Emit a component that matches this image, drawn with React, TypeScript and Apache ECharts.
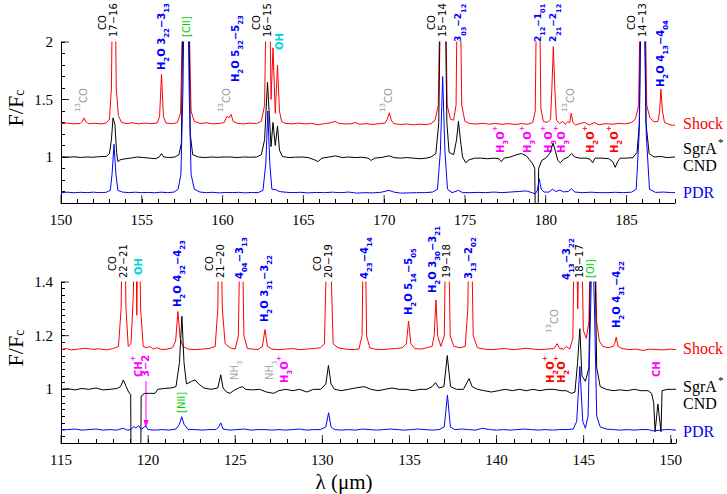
import React, { useEffect, useRef } from 'react';
import * as echarts from 'echarts';

// ---------- data: top panel (150-188 um) ----------
const topShock: number[][] = [
  [150.0,1.29],[150.4,1.295],[150.8,1.288],[151.2,1.292],[151.32,1.31],[151.42,1.34],[151.52,1.31],[151.7,1.29],[152.1,1.293],[152.5,1.288],[152.8,1.295],[153.0,1.33],[153.12,1.6],[153.18,2.4],[153.36,2.4],[153.42,1.6],[153.55,1.36],[153.75,1.3],[154.1,1.29],[154.4,1.298],[154.8,1.288],[155.2,1.295],[155.6,1.29],[155.95,1.295],[156.1,1.35],[156.22,1.72],[156.34,1.35],[156.5,1.295],[156.9,1.29],[157.2,1.3],[157.4,1.38],[157.55,2.4],[157.9,2.4],[158.05,1.4],[158.25,1.31],[158.6,1.292],[159.0,1.297],[159.4,1.288],[159.8,1.292],[160.1,1.3],[160.28,1.355],[160.4,1.34],[160.52,1.37],[160.66,1.31],[160.9,1.292],[161.3,1.288],[161.7,1.295],[162.1,1.29],[162.4,1.31],[162.6,1.45],[162.7,2.4],[162.92,2.4],[163.0,1.5],[163.12,1.95],[163.26,1.38],[163.4,1.8],[163.52,1.4],[163.65,1.31],[163.85,1.293],[164.3,1.288],[164.7,1.295],[165.1,1.287],[165.5,1.293],[165.9,1.28],[166.3,1.29],[166.7,1.298],[166.95,1.31],[167.2,1.292],[167.6,1.287],[168.0,1.29],[168.2,1.3],[168.5,1.285],[168.9,1.29],[169.3,1.283],[169.7,1.29],[170.05,1.295],[170.2,1.33],[170.32,1.385],[170.44,1.32],[170.6,1.29],[171.0,1.283],[171.4,1.287],[171.8,1.28],[172.2,1.285],[172.6,1.282],[172.9,1.29],[173.15,1.32],[173.35,1.45],[173.45,2.4],[173.8,2.4],[173.9,1.45],[174.1,1.33],[174.3,1.32],[174.45,1.45],[174.52,2.4],[174.72,2.4],[174.8,1.45],[175.0,1.31],[175.3,1.29],[175.7,1.287],[176.1,1.293],[176.5,1.285],[176.9,1.292],[177.3,1.284],[177.7,1.29],[178.1,1.283],[178.5,1.29],[178.9,1.285],[179.2,1.3],[179.35,1.4],[179.43,2.4],[179.62,2.4],[179.7,1.42],[179.85,1.31],[180.1,1.3],[180.3,1.33],[180.38,1.6],[180.47,1.96],[180.56,1.6],[180.66,1.32],[180.85,1.29],[181.05,1.31],[181.2,1.285],[181.35,1.305],[181.48,1.3],[181.58,1.38],[181.68,1.3],[181.85,1.278],[182.1,1.29],[182.4,1.3],[182.7,1.278],[183.0,1.3],[183.3,1.28],[183.7,1.29],[184.1,1.285],[184.5,1.292],[184.9,1.288],[185.3,1.3],[185.55,1.33],[185.75,1.45],[185.85,2.4],[186.15,2.4],[186.25,1.45],[186.45,1.34],[186.7,1.305],[186.95,1.31],[187.05,1.4],[187.13,1.59],[187.22,1.4],[187.35,1.3],[187.6,1.285],[187.85,1.275],[188.0,1.28]
];
const topCND: number[][] = [
  [150.0,1.0],[150.4,0.997],[150.8,1.002],[151.2,0.996],[151.6,1.0],[152.0,0.998],[152.4,1.003],[152.8,1.005],[153.0,1.03],[153.12,1.15],[153.22,1.34],[153.34,1.28],[153.44,1.04],[153.52,0.96],[153.65,0.975],[153.9,0.983],[154.3,0.99],[154.7,1.0],[155.1,0.995],[155.5,0.99],[155.85,0.985],[156.08,1.0],[156.22,1.03],[156.36,1.0],[156.7,0.995],[157.05,1.0],[157.3,1.02],[157.45,1.12],[157.55,2.4],[157.9,2.4],[158.0,1.2],[158.15,1.02],[158.5,1.0],[158.9,0.995],[159.3,1.0],[159.7,0.997],[160.1,1.0],[160.5,1.0],[160.9,0.995],[161.3,1.0],[161.7,0.998],[162.1,1.0],[162.4,1.02],[162.6,1.15],[162.78,1.65],[162.9,1.35],[163.0,1.09],[163.12,1.3],[163.26,1.1],[163.4,1.27],[163.52,1.06],[163.7,1.005],[164.1,0.995],[164.5,0.998],[164.9,1.0],[165.3,0.995],[165.7,0.975],[165.9,0.96],[166.15,0.99],[166.6,1.0],[167.0,1.01],[167.4,0.995],[167.8,1.0],[168.2,0.995],[168.6,0.998],[169.0,0.99],[169.2,0.97],[169.4,0.99],[169.8,0.995],[170.3,1.01],[170.6,0.995],[171.0,0.99],[171.4,0.995],[171.8,0.99],[172.2,0.985],[172.6,0.99],[172.9,1.0],[173.2,1.03],[173.38,1.3],[173.48,2.4],[173.78,2.4],[173.88,1.3],[174.02,1.04],[174.3,1.02],[174.48,1.15],[174.6,1.31],[174.72,1.15],[174.85,1.0],[175.05,0.95],[175.25,0.975],[175.6,0.99],[176.0,0.99],[176.4,0.985],[176.8,0.99],[177.1,0.985],[177.25,0.96],[177.42,0.99],[177.8,1.0],[178.2,1.02],[178.5,1.03],[178.8,1.01],[179.0,0.975],[179.2,0.94],[179.32,0.9],[179.36,0.4],[179.52,0.4],[179.56,0.9],[179.75,0.97],[180.0,0.99],[180.25,1.03],[180.45,1.12],[180.6,1.05],[180.75,0.97],[180.9,0.95],[181.1,0.98],[181.4,1.0],[181.6,1.03],[181.8,1.0],[182.1,0.99],[182.5,0.99],[182.75,0.98],[182.9,0.95],[183.05,0.99],[183.5,0.99],[183.9,0.985],[184.15,0.96],[184.3,0.91],[184.45,0.96],[184.6,0.99],[185.0,0.99],[185.4,0.995],[185.65,1.04],[185.8,1.3],[185.9,2.4],[186.1,2.4],[186.2,1.3],[186.4,1.03],[186.7,1.0],[187.1,1.005],[187.5,0.995],[188.0,1.0]
];
const topPDR: number[][] = [
  [150.0,0.69],[150.4,0.694],[150.8,0.689],[151.2,0.693],[151.6,0.69],[152.0,0.694],[152.4,0.69],[152.8,0.693],[153.05,0.71],[153.16,0.85],[153.28,1.11],[153.4,0.85],[153.52,0.71],[153.8,0.695],[154.2,0.69],[154.6,0.694],[155.0,0.69],[155.4,0.692],[155.8,0.689],[156.2,0.694],[156.6,0.69],[157.0,0.695],[157.25,0.72],[157.42,0.85],[157.55,1.6],[157.62,2.4],[157.86,2.4],[157.93,1.6],[158.05,0.85],[158.25,0.72],[158.6,0.695],[159.0,0.69],[159.4,0.693],[159.8,0.688],[160.2,0.692],[160.6,0.69],[161.0,0.693],[161.4,0.688],[161.8,0.692],[162.2,0.69],[162.5,0.71],[162.68,0.95],[162.8,1.4],[162.92,0.95],[163.05,0.72],[163.3,0.715],[163.5,0.7],[163.8,0.695],[164.3,0.69],[164.8,0.693],[165.3,0.688],[165.8,0.692],[166.3,0.69],[166.8,0.694],[167.3,0.69],[167.8,0.695],[168.3,0.686],[168.8,0.69],[169.3,0.688],[169.8,0.693],[170.3,0.71],[170.6,0.695],[171.0,0.686],[171.5,0.688],[172.0,0.69],[172.5,0.69],[173.0,0.695],[173.3,0.72],[173.48,1.05],[173.62,1.7],[173.76,1.05],[173.92,0.72],[174.2,0.69],[174.6,0.71],[174.85,0.69],[175.3,0.69],[175.8,0.692],[176.3,0.69],[176.8,0.695],[177.3,0.69],[177.8,0.695],[178.3,0.7],[178.8,0.705],[179.1,0.692],[179.35,0.68],[179.48,0.71],[179.6,0.81],[179.72,0.72],[179.9,0.695],[180.2,0.695],[180.42,0.72],[180.62,0.7],[180.88,0.712],[181.1,0.697],[181.4,0.7],[181.6,0.725],[181.8,0.695],[182.3,0.69],[182.8,0.694],[183.3,0.69],[183.8,0.69],[184.3,0.693],[184.8,0.69],[185.3,0.694],[185.6,0.72],[185.78,1.2],[185.88,2.4],[186.12,2.4],[186.22,1.2],[186.42,0.72],[186.8,0.692],[187.3,0.695],[187.8,0.69],[188.0,0.69]
];

// ---------- data: bottom panel (115-150 um) ----------
const botShock: number[][] = [
  [115.0,1.148],[115.3,1.152],[115.6,1.147],[116.0,1.15],[116.4,1.153],[116.8,1.149],[117.2,1.151],[117.6,1.147],[118.0,1.152],[118.3,1.16],[118.45,1.3],[118.52,1.6],[118.66,1.6],[118.73,1.3],[118.86,1.16],[119.02,1.17],[119.15,1.35],[119.22,1.6],[119.3,1.6],[119.35,1.276],[119.42,1.6],[119.5,1.6],[119.57,1.3],[119.72,1.16],[119.9,1.155],[120.1,1.16],[120.3,1.15],[120.5,1.155],[120.8,1.148],[121.1,1.15],[121.4,1.155],[121.58,1.18],[121.71,1.29],[121.84,1.19],[122.0,1.16],[122.3,1.15],[122.7,1.148],[123.1,1.15],[123.5,1.152],[123.85,1.16],[124.0,1.3],[124.06,1.6],[124.18,1.6],[124.26,1.3],[124.42,1.17],[124.7,1.155],[125.0,1.15],[125.18,1.2],[125.28,1.6],[125.4,1.6],[125.5,1.2],[125.7,1.152],[126.0,1.15],[126.3,1.148],[126.56,1.16],[126.71,1.223],[126.85,1.16],[127.1,1.15],[127.5,1.148],[127.9,1.15],[128.3,1.152],[128.7,1.148],[129.1,1.15],[129.5,1.152],[129.9,1.155],[130.12,1.17],[130.24,1.5],[130.3,1.6],[130.42,1.6],[130.48,1.5],[130.62,1.17],[130.9,1.155],[131.3,1.15],[131.7,1.148],[132.1,1.15],[132.28,1.2],[132.36,1.6],[132.46,1.6],[132.54,1.2],[132.72,1.155],[133.0,1.15],[133.4,1.148],[133.8,1.15],[134.2,1.152],[134.6,1.155],[134.82,1.17],[134.95,1.254],[135.08,1.17],[135.3,1.152],[135.7,1.15],[136.0,1.155],[136.3,1.16],[136.42,1.2],[136.52,1.333],[136.62,1.2],[136.8,1.16],[137.0,1.2],[137.08,1.6],[137.24,1.6],[137.34,1.2],[137.55,1.16],[137.9,1.155],[138.2,1.16],[138.35,1.3],[138.42,1.6],[138.56,1.6],[138.66,1.2],[138.9,1.155],[139.3,1.15],[139.7,1.148],[140.1,1.15],[140.5,1.152],[140.9,1.148],[141.3,1.15],[141.7,1.153],[142.1,1.15],[142.5,1.148],[142.9,1.15],[143.3,1.152],[143.47,1.17],[143.62,1.152],[143.85,1.15],[144.01,1.16],[144.2,1.15],[144.38,1.19],[144.46,1.6],[144.58,1.6],[144.66,1.3],[144.74,1.6],[144.88,1.6],[144.98,1.22],[145.15,1.19],[145.3,1.25],[145.4,1.6],[145.64,1.6],[145.75,1.25],[145.9,1.18],[146.1,1.16],[146.4,1.155],[146.7,1.16],[146.78,1.17],[146.87,1.195],[146.97,1.16],[147.2,1.152],[147.6,1.148],[148.0,1.15],[148.4,1.145],[148.8,1.15],[149.2,1.148],[149.6,1.147],[150.0,1.15],[150.3,1.148]
];
const botCND: number[][] = [
  [115.0,1.0],[115.4,1.002],[115.8,0.998],[116.2,1.003],[116.6,1.0],[117.0,1.005],[117.4,0.998],[117.8,1.0],[118.2,1.003],[118.42,1.01],[118.58,1.035],[118.74,1.01],[118.88,0.99],[119.0,0.98],[119.04,0.5],[119.56,0.5],[119.6,0.975],[119.8,0.985],[120.1,0.985],[120.4,0.985],[120.55,1.0],[120.9,1.003],[121.3,1.005],[121.6,1.01],[121.8,1.1],[121.94,1.272],[122.06,1.1],[122.2,1.02],[122.5,1.03],[122.7,1.035],[122.9,1.02],[123.2,1.005],[123.6,1.0],[124.0,1.005],[124.17,1.054],[124.3,1.005],[124.5,0.99],[124.7,0.985],[124.9,0.995],[125.2,1.005],[125.4,1.01],[125.6,1.0],[126.0,0.998],[126.4,1.0],[126.8,0.99],[127.2,0.985],[127.5,0.995],[127.9,1.0],[128.3,0.995],[128.7,1.0],[129.1,0.99],[129.5,1.0],[129.9,1.0],[130.2,1.02],[130.35,1.089],[130.5,1.02],[130.7,1.0],[131.1,0.995],[131.5,1.0],[131.9,1.005],[132.4,1.01],[132.8,1.0],[133.2,0.995],[133.6,1.0],[134.0,1.005],[134.4,1.0],[134.8,1.0],[135.2,0.995],[135.6,1.0],[136.0,1.0],[136.3,1.01],[136.5,1.025],[136.7,1.005],[136.98,1.01],[137.17,1.126],[137.36,1.01],[137.7,1.0],[138.1,1.0],[138.42,1.04],[138.6,1.01],[138.9,1.0],[139.3,0.995],[139.7,0.99],[140.1,0.995],[140.5,1.0],[140.9,0.995],[141.3,1.0],[141.7,0.995],[142.1,1.0],[142.5,0.995],[142.9,1.0],[143.3,1.0],[143.7,0.995],[144.0,0.995],[144.3,0.985],[144.5,0.99],[144.65,1.1],[144.78,1.226],[144.9,1.05],[145.1,1.03],[145.3,1.08],[145.42,1.6],[145.62,1.6],[145.75,1.08],[145.95,1.01],[146.3,1.0],[146.7,0.995],[147.1,0.998],[147.5,0.995],[147.9,1.0],[148.3,0.995],[148.7,0.995],[148.9,0.985],[149.02,0.95],[149.1,0.842],[149.26,0.945],[149.44,0.842],[149.5,0.995],[149.8,1.0],[150.1,1.0],[150.3,1.0]
];
const botPDR: number[][] = [
  [115.0,0.848],[115.4,0.85],[115.8,0.852],[116.2,0.848],[116.6,0.85],[117.0,0.852],[117.4,0.848],[117.8,0.85],[118.2,0.848],[118.58,0.855],[118.8,0.848],[119.0,0.85],[119.2,0.862],[119.3,0.855],[119.45,0.865],[119.6,0.85],[119.86,0.864],[120.0,0.85],[120.4,0.848],[120.8,0.85],[121.2,0.848],[121.6,0.852],[121.8,0.87],[121.93,0.898],[122.06,0.87],[122.3,0.85],[122.7,0.85],[123.1,0.848],[123.5,0.85],[123.9,0.85],[124.05,0.86],[124.17,0.875],[124.3,0.852],[124.7,0.848],[125.1,0.85],[125.5,0.852],[125.9,0.848],[126.3,0.85],[126.7,0.85],[127.1,0.848],[127.5,0.85],[127.9,0.848],[128.3,0.85],[128.7,0.852],[129.1,0.848],[129.5,0.85],[129.9,0.85],[130.2,0.86],[130.36,0.913],[130.5,0.86],[130.7,0.85],[131.1,0.848],[131.5,0.85],[131.9,0.848],[132.3,0.852],[132.7,0.85],[133.1,0.848],[133.5,0.85],[133.9,0.852],[134.3,0.85],[134.7,0.848],[135.1,0.85],[135.5,0.852],[135.9,0.85],[136.3,0.848],[136.7,0.85],[137.0,0.86],[137.18,0.979],[137.35,0.86],[137.6,0.85],[138.0,0.852],[138.4,0.85],[138.8,0.848],[139.2,0.855],[139.6,0.85],[140.0,0.848],[140.4,0.85],[140.8,0.848],[141.2,0.85],[141.6,0.852],[142.0,0.85],[142.4,0.848],[142.8,0.85],[143.2,0.848],[143.6,0.85],[144.0,0.85],[144.4,0.852],[144.6,0.88],[144.78,1.085],[144.95,0.88],[145.1,0.855],[145.25,0.9],[145.4,1.3],[145.5,1.6],[145.62,1.3],[145.75,0.9],[145.95,0.86],[146.3,0.852],[146.7,0.85],[147.1,0.848],[147.5,0.85],[147.9,0.848],[148.3,0.85],[148.7,0.85],[149.0,0.845],[149.3,0.847],[149.7,0.85],[150.0,0.85],[150.3,0.848]
];

// tick values
const topXMajor = [150, 155, 160, 165, 170, 175, 180, 185];
const topYMajor = [1, 1.5, 2];
const botXMajor = [115, 120, 125, 130, 135, 140, 145, 150];
const botYMajor = [1, 1.2, 1.4];

// line identifications ("_" = subscript, "^" = superscript)
const topCO = [
  { lam: 153.28, j: '17−16' }, { lam: 162.81, j: '16−15' }, { lam: 173.6, j: '15−14' }, { lam: 186.0, j: '14−13' },
];
const botCO = [
  { lam: 118.6, j: '22−21' }, { lam: 124.16, j: '21−20' }, { lam: 130.34, j: '20−19' },
];
const topLabels = [
  { lam: 151.42, text: '^{13}CO', kind: 'iso', yb: 112 },
  { lam: 156.25, text: 'H_2O 3_{22}−3_{13}', kind: 'h2o', yb: 70 },
  { lam: 157.74, text: '[CII]', kind: 'fs', yb: 37 },
  { lam: 160.83, text: 'H_2O 5_{32}−5_{23}', kind: 'h2o', yb: 82 },
  { lam: 160.27, text: '^{13}CO', kind: 'iso', yb: 112 },
  { lam: 163.55, text: 'OH', kind: 'oh', yb: 50 },
  { lam: 170.24, text: '^{13}CO', kind: 'iso', yb: 112 },
  { lam: 174.59, text: '3_{03}−2_{12}', kind: 'h2o', yb: 42, small: true },
  { lam: 179.52, text: '2_{12}−1_{01}', kind: 'h2o', yb: 42, small: true },
  { lam: 180.45, text: '2_{21}−2_{12}', kind: 'h2o', yb: 42, small: true },
  { lam: 181.56, text: '^{13}CO', kind: 'iso', yb: 112 },
  { lam: 187.13, text: 'H_2O 4_{13}−4_{04}', kind: 'h2o', yb: 87 },
  { lam: 177.17, text: 'H_3O^+', kind: 'mag', yb: 153 },
  { lam: 178.9, text: 'H_3O^+', kind: 'mag', yb: 153 },
  { lam: 180.2, text: 'H_3O^+', kind: 'mag', yb: 153 },
  { lam: 181.0, text: 'H_3O^+', kind: 'mag', yb: 153 },
  { lam: 182.74, text: 'H_2O^+', kind: 'h2op', yb: 153 },
  { lam: 184.28, text: 'H_2O^+', kind: 'h2op', yb: 153 },
];
const botLabels = [
  { lam: 119.42, text: 'OH', kind: 'oh', yb: 275 },
  { lam: 121.71, text: 'H_2O 4_{32}−4_{23}', kind: 'h2o', yb: 307 },
  { lam: 125.27, text: '4_{04}−3_{13}', kind: 'h2o', yb: 279 },
  { lam: 126.7, text: 'H_2O 3_{31}−3_{22}', kind: 'h2o', yb: 322 },
  { lam: 124.93, text: 'NH_3', kind: 'nh3', yb: 380 },
  { lam: 126.99, text: 'NH_3', kind: 'nh3', yb: 380 },
  { lam: 127.85, text: 'H_3O^+', kind: 'mag', yb: 383 },
  { lam: 119.42, text: 'CH^+', kind: 'mag', yb: 377 },
  { lam: 119.86, text: '3−2', kind: 'mag', yb: 377 },
  { lam: 121.94, text: '[NII]', kind: 'fs', yb: 413 },
  { lam: 132.4, text: '4_{23}−4_{14}', kind: 'h2o', yb: 279 },
  { lam: 134.93, text: 'H_2O 5_{14}−5_{05}', kind: 'h2o', yb: 315 },
  { lam: 136.34, text: 'H_2O 3_{30}−3_{21}', kind: 'h2o', yb: 293 },
  { lam: 137.13, text: '19−18', kind: 'co', yb: 278 },
  { lam: 138.41, text: '3_{13}−2_{02}', kind: 'h2o', yb: 279 },
  { lam: 143.34, text: '^{13}CO', kind: 'iso', yb: 333 },
  { lam: 144.01, text: '4_{13}−3_{22}', kind: 'h2o', yb: 280 },
  { lam: 144.78, text: '18−17', kind: 'co', yb: 278 },
  { lam: 145.39, text: '[OI]', kind: 'fs', yb: 278 },
  { lam: 146.88, text: 'H_2O 4_{31}−4_{22}', kind: 'h2o', yb: 328 },
  { lam: 143.11, text: 'H_2O^+', kind: 'h2op', yb: 383 },
  { lam: 143.74, text: 'H_2O^+', kind: 'h2op', yb: 383 },
  { lam: 149.18, text: 'CH', kind: 'mag', yb: 377 },
];
const chArrowLam = 119.88;

const KIND: Record<string, { color: string; bold: boolean }> = {
  co: { color: '#000000', bold: false },
  h2o: { color: '#0000ff', bold: true },
  fs: { color: '#00d000', bold: false },
  oh: { color: '#00d8e0', bold: true },
  iso: { color: '#9a9a9a', bold: false },
  nh3: { color: '#a8a8a8', bold: false },
  mag: { color: '#ff00ff', bold: true },
  h2op: { color: '#ff0000', bold: true },
};

const SERIF = 'Liberation Serif';
const SANS = 'DejaVu Sans';

function toRich(s: string) {
  let out = '';
  let buf = '';
  const flush = () => {
    if (buf) { out += '{n|' + buf + '}'; buf = ''; }
  };
  for (let i = 0; i < s.length; i++) {
    const c = s[i];
    if (c === '_' || c === '^') {
      flush();
      let t = '';
      if (s[i + 1] === '{') {
        const e = s.indexOf('}', i + 2);
        t = s.slice(i + 2, e);
        i = e;
      } else {
        t = s[i + 1];
        i++;
      }
      out += '{' + (c === '_' ? 's' : 'p') + '|' + t + '}';
    } else buf += c;
  }
  flush();
  return out;
}

function fmt5(v: number) {
  return Math.abs(v / 5 - Math.round(v / 5)) < 1e-6 ? String(Math.round(v)) : '';
}
function fmtList(list: number[]) {
  return (v: number) => {
    const hit = list.find((t) => Math.abs(t - v) < 1e-6);
    return hit === undefined ? '' : String(hit);
  };
}

function xAxisCfg(g: number, min: number, max: number) {
  return {
    gridIndex: g, type: 'value', min, max, interval: 1,
    axisLine: { show: true, onZero: false, lineStyle: { color: '#000', width: 1 } },
    axisTick: { show: true, inside: true, length: 4, lineStyle: { color: '#000', width: 1 } },
    axisLabel: { formatter: fmt5, color: '#000', fontFamily: SERIF, fontSize: 15, margin: 9 },
    splitLine: { show: false },
  };
}
function yAxisCfg(g: number, min: number, max: number, interval: number, labels: number[]) {
  return {
    gridIndex: g, type: 'value', min, max, interval,
    axisLine: { show: true, onZero: false, lineStyle: { color: '#000', width: 1 } },
    axisTick: { show: true, inside: true, length: 4, lineStyle: { color: '#000', width: 1 } },
    axisLabel: { formatter: fmtList(labels), color: '#000', fontFamily: SERIF, fontSize: 15, margin: 8 },
    splitLine: { show: false },
  };
}
function lineS(data: number[][], color: string, g: number) {
  return {
    type: 'line', data, xAxisIndex: g, yAxisIndex: g, showSymbol: false, symbol: 'none',
    lineStyle: { width: 1, color }, itemStyle: { color }, silent: true,
  };
}
function tickS(data: number[][], g: number, size: number[], offset: number[]) {
  return {
    type: 'scatter', data, xAxisIndex: g, yAxisIndex: g, symbol: 'rect', symbolSize: size,
    symbolOffset: offset, itemStyle: { color: '#000' }, silent: true, clip: false,
  };
}

export default function App() {
  const ref = useRef<HTMLDivElement>(null);
  useEffect(() => {
    if (!ref.current) return;
    const chart = echarts.init(ref.current, null, { renderer: 'svg' });
    chart.setOption({
      animation: false,
      grid: [
        { left: 61, top: 42, width: 614, height: 161 },
        { left: 61, top: 282, width: 615, height: 161 },
      ],
      xAxis: [xAxisCfg(0, 150, 188), xAxisCfg(1, 115, 150.3)],
      yAxis: [yAxisCfg(0, 0.6, 2, 0.1, topYMajor), yAxisCfg(1, 0.8, 1.4, 0.025, botYMajor)],
      series: [
        lineS(topShock, '#ff0000', 0),
        lineS(topCND, '#000000', 0),
        lineS(topPDR, '#0000ff', 0),
        lineS(botShock, '#ff0000', 1),
        lineS(botCND, '#000000', 1),
        lineS(botPDR, '#0000ff', 1),
        tickS(topXMajor.map((v) => [v, 0.6]), 0, [1, 8], [0, -4]),
        tickS(topYMajor.map((v) => [150, v]), 0, [8, 1], [4, 0]),
        tickS(botXMajor.map((v) => [v, 0.8]), 1, [1, 8], [0, -4]),
        tickS(botYMajor.map((v) => [115, v]), 1, [8, 1], [4, 0]),
      ],
    });

    const px = (g: number, lam: number) => chart.convertToPixel({ xAxisIndex: g }, lam) as number;
    const els: any[] = [];
    const vtext = (x: number, yb: number, text: string, color: string, bold: boolean, small = false) => {
      const w = bold ? 'bold' : 'normal';
      const fn = small ? 9 : 10;
      const fs = small ? 6.5 : 7;
      els.push({
        type: 'text', x, y: yb, rotation: Math.PI / 2, silent: true,
        style: {
          text: toRich(text), fill: color, align: 'left', verticalAlign: 'middle',
          rich: {
            n: { fontSize: fn, fontFamily: SANS, fontWeight: w, fill: color, lineHeight: 18, verticalAlign: 'middle' },
            s: { fontSize: fs, fontFamily: SANS, fontWeight: w, fill: color, lineHeight: 8, verticalAlign: 'bottom' },
            p: { fontSize: fs, fontFamily: SANS, fontWeight: w, fill: color, lineHeight: 8, verticalAlign: 'top' },
          },
        },
      });
    };
    topCO.forEach((c) => {
      const x = px(0, c.lam);
      vtext(x - 11, 30, 'CO', '#000', false);
      vtext(x, 37, c.j, '#000', false);
    });
    botCO.forEach((c) => {
      const x = px(1, c.lam);
      vtext(x - 11, 271, 'CO', '#000', false);
      vtext(x, 278, c.j, '#000', false);
    });
    topLabels.forEach((l: any) => vtext(px(0, l.lam), l.yb, l.text, KIND[l.kind].color, KIND[l.kind].bold, !!l.small));
    botLabels.forEach((l: any) => vtext(px(1, l.lam), l.yb, l.text, KIND[l.kind].color, KIND[l.kind].bold, !!l.small));

    // CH+ arrow
    const ax = px(1, chArrowLam);
    els.push({ type: 'line', silent: true, shape: { x1: ax, y1: 381, x2: ax, y2: 423 }, style: { stroke: '#ff00ff', lineWidth: 1 } });
    els.push({ type: 'polygon', silent: true, shape: { points: [[ax - 2.5, 420], [ax + 2.5, 420], [ax, 428]] }, style: { fill: '#ff00ff' } });

    // right-hand spectrum names
    const name = (x: number, y: number, text: string, color: string, size = 16) => {
      els.push({
        type: 'text', x, y, silent: true,
        style: { text, fill: color, fontSize: size, fontFamily: SERIF, align: 'left', verticalAlign: 'middle' },
      });
    };
    name(683, 123.5, 'Shock', '#ff0000');
    name(683, 148, 'SgrA', '#000');
    name(718, 142, '*', '#000', 11);
    name(683, 165, 'CND', '#000');
    name(683, 192.5, 'PDR', '#0000ff');
    name(683, 348.5, 'Shock', '#ff0000');
    name(683, 386, 'SgrA', '#000');
    name(718, 380, '*', '#000', 11);
    name(683, 403, 'CND', '#000');
    name(683, 431, 'PDR', '#0000ff');

    // axis titles
    const ytitle = (y: number) => {
      els.push({
        type: 'text', x: 15, y, rotation: Math.PI / 2, silent: true,
        style: {
          text: '{a|F/F}{b|c}', fill: '#000', align: 'center', verticalAlign: 'middle',
          rich: {
            a: { fontSize: 22, fontFamily: SERIF, fill: '#000', verticalAlign: 'top', lineHeight: 22 },
            b: { fontSize: 14, fontFamily: SERIF, fill: '#000', verticalAlign: 'bottom', lineHeight: 14, padding: [10, 0, 0, 0] },
          },
        },
      });
    };
    ytitle(108);
    ytitle(348);
    els.push({
      type: 'text', x: 344, y: 482, silent: true,
      style: { text: 'λ (μm)', fill: '#000', fontSize: 21, fontFamily: SERIF, align: 'center', verticalAlign: 'middle' },
    });

    chart.setOption({ graphic: { elements: els } });
    return () => chart.dispose();
  }, []);
  return <div ref={ref} style={{ position: 'absolute', left: 0, top: 0, width: 727, height: 494 }} />;
}
